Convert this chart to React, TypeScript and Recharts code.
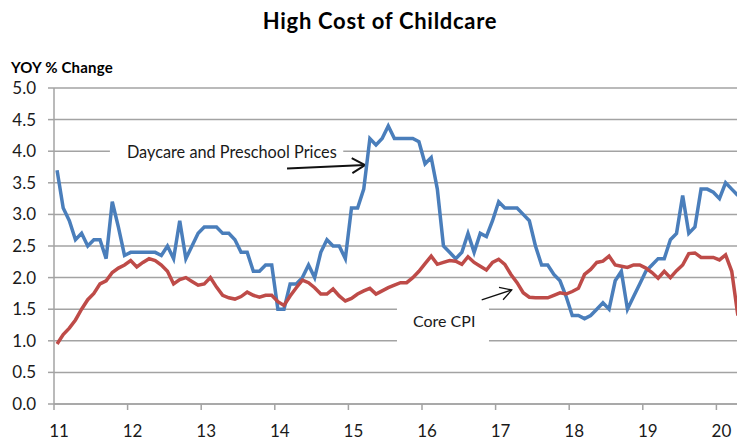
import React from 'react';
import { LineChart, Line, XAxis, YAxis, CartesianGrid, ReferenceArea, ReferenceLine } from 'recharts';

// monthly YOY % change, Jan 2011 .. Apr 2020
const startYear = 11;

const daycare = [
  3.7, 3.1, 2.9, 2.6, 2.7, 2.5, 2.6, 2.6, 2.3, 3.2, 2.8, 2.35,
  2.4, 2.4, 2.4, 2.4, 2.4, 2.35, 2.5, 2.3, 2.9, 2.3, 2.5, 2.7,
  2.8, 2.8, 2.8, 2.7, 2.7, 2.6, 2.4, 2.4, 2.1, 2.1, 2.2, 2.2,
  1.5, 1.5, 1.9, 1.9, 2.0, 2.2, 2.0, 2.4, 2.6, 2.5, 2.5, 2.3,
  3.1, 3.1, 3.4, 4.2, 4.1, 4.2, 4.4, 4.2, 4.2, 4.2, 4.2, 4.15,
  3.8, 3.9, 3.4, 2.5, 2.4, 2.3, 2.4, 2.7, 2.4, 2.7, 2.65, 2.9,
  3.2, 3.1, 3.1, 3.1, 3.0, 2.9, 2.5, 2.2, 2.2, 2.05, 1.95, 1.7,
  1.4, 1.4, 1.35, 1.4, 1.5, 1.6, 1.5, 1.95, 2.1, 1.5, 1.7, 1.9,
  2.1, 2.2, 2.3, 2.3, 2.6, 2.7, 3.3, 2.7, 2.8, 3.4, 3.4, 3.35,
  3.25, 3.5, 3.4, 3.3,
];

const coreCpi = [
  0.95, 1.1, 1.2, 1.33, 1.5, 1.65, 1.75, 1.9, 1.95, 2.08, 2.15, 2.2,
  2.27, 2.17, 2.24, 2.3, 2.27, 2.2, 2.1, 1.9, 1.97, 2.0, 1.94, 1.88,
  1.9, 2.0, 1.85, 1.72, 1.68, 1.66, 1.7, 1.77, 1.72, 1.69, 1.72, 1.72,
  1.62, 1.56, 1.71, 1.84, 1.96, 1.92, 1.84, 1.74, 1.74, 1.82, 1.71, 1.63,
  1.67, 1.74, 1.79, 1.83, 1.74, 1.79, 1.84, 1.88, 1.92, 1.92, 2.0, 2.1,
  2.22, 2.34, 2.21, 2.24, 2.27, 2.26, 2.21, 2.33, 2.24, 2.18, 2.12, 2.24,
  2.29, 2.21, 2.05, 1.92, 1.76, 1.69, 1.68, 1.68, 1.68, 1.72, 1.76, 1.74,
  1.78, 1.83, 2.05, 2.13, 2.24, 2.26, 2.34, 2.2, 2.18, 2.16, 2.2, 2.2,
  2.15, 2.08, 1.99, 2.1, 2.0, 2.11, 2.2, 2.38, 2.39, 2.32, 2.32, 2.32,
  2.28, 2.36, 2.1, 1.4,
];

const yearTicks = [11, 12, 13, 14, 15, 16, 17, 18, 19, 20];
const valueTicks = [0, 0.5, 1, 1.5, 2, 2.5, 3, 3.5, 4, 4.5, 5];

const data = daycare.map((v, i) => ({
  t: startYear + (i + 0.5) / 12,
  daycare: v,
  cpi: coreCpi[i],
}));

const font = 'Lato, "Open Sans", sans-serif';
const gridGray = '#a3a3a3';

// line with an open arrow head at its end
const arrow = (len: number, width: number) => (props: any) => {
  const { x1, y1, x2, y2 } = props;
  const a = Math.atan2(y2 - y1, x2 - x1);
  const s = Math.PI / 6;
  const ax = x2 - len * Math.cos(a - s);
  const ay = y2 - len * Math.sin(a - s);
  const bx = x2 - len * Math.cos(a + s);
  const by = y2 - len * Math.sin(a + s);
  return (
    <g>
      <line x1={x1} y1={y1} x2={x2} y2={y2} stroke="#111" strokeWidth={width} />
      <polyline
        points={`${ax},${ay} ${x2},${y2} ${bx},${by}`}
        fill="none"
        stroke="#111"
        strokeWidth={width}
      />
    </g>
  );
};

export default function App() {
  return (
    <div
      style={{
        position: 'fixed',
        left: 0,
        top: 0,
        width: 737,
        height: 437,
        overflow: 'hidden',
        background: '#fff',
        fontFamily: font,
      }}
    >
      <div
        style={{
          position: 'absolute',
          left: 0,
          top: 8,
          width: 760,
          textAlign: 'center',
          fontSize: 22,
          fontWeight: 700,
          letterSpacing: 0.7,
          color: '#000',
          lineHeight: 1.2,
        }}
      >
        High Cost of Childcare
      </div>
      <div
        style={{
          position: 'absolute',
          left: 11,
          top: 58,
          fontSize: 15,
          fontWeight: 700,
          letterSpacing: 0.2,
          color: '#000',
          lineHeight: 1.2,
        }}
      >
        YOY % Change
      </div>
      <div style={{ position: 'absolute', left: 0, top: 0 }}>
        <LineChart
          width={792}
          height={460}
          data={data}
          margin={{ top: 88, right: 2, bottom: 0, left: 10 }}
        >
          <CartesianGrid vertical={false} stroke={gridGray} strokeWidth={1.5} />
          <XAxis
            type="number"
            dataKey="t"
            domain={[11, 21]}
            ticks={yearTicks}
            interval={0}
            height={56}
            tickSize={6}
            tickMargin={15}
            axisLine={{ stroke: gridGray, strokeWidth: 1.5 }}
            tickLine={{ stroke: gridGray, strokeWidth: 1.5 }}
            tick={{ fill: '#1a1a1a', fontSize: 17, fontFamily: font, dx: 5 }}
          />
          <YAxis
            type="number"
            domain={[0, 5]}
            ticks={valueTicks}
            interval={0}
            width={44}
            tickSize={6}
            tickMargin={12}
            tickFormatter={(v: number) => v.toFixed(1)}
            axisLine={{ stroke: gridGray, strokeWidth: 1.5 }}
            tickLine={{ stroke: gridGray, strokeWidth: 1.5 }}
            tick={{ fill: '#1a1a1a', fontSize: 17, fontFamily: font }}
          />
          <ReferenceArea
            x1={11.76}
            x2={14.93}
            y1={3.86}
            y2={4.12}
            fill="#fff"
            fillOpacity={1}
            stroke="none"
            label={{
              value: 'Daycare and Preschool Prices',
              position: 'insideLeft',
              offset: 17,
              fill: '#1a1a1a',
              fontSize: 16.3,
              fontFamily: font,
            }}
          />
          <ReferenceArea
            x1={15.66}
            x2={16.91}
            y1={0.92}
            y2={1.7}
            fill="#fff"
            fillOpacity={1}
            stroke="none"
            label={{
              value: 'Core CPI',
              position: 'insideLeft',
              offset: 16,
              fill: '#1a1a1a',
              fontSize: 16,
              fontFamily: font,
            }}
          />
          <ReferenceLine
            segment={[{ x: 14.166, y: 3.725 }, { x: 15.226, y: 3.78 }]}
            shape={arrow(15, 2)}
          />
          <ReferenceLine
            segment={[{ x: 16.811, y: 1.646 }, { x: 17.219, y: 1.804 }]}
            shape={arrow(13, 1.3)}
          />
          <Line
            type="linear"
            dataKey="daycare"
            stroke="#4A7EBB"
            strokeWidth={3.5}
            dot={false}
            activeDot={false}
            isAnimationActive={false}
          />
          <Line
            type="linear"
            dataKey="cpi"
            stroke="#BE4B48"
            strokeWidth={3.5}
            dot={false}
            activeDot={false}
            isAnimationActive={false}
          />
        </LineChart>
      </div>
    </div>
  );
}
